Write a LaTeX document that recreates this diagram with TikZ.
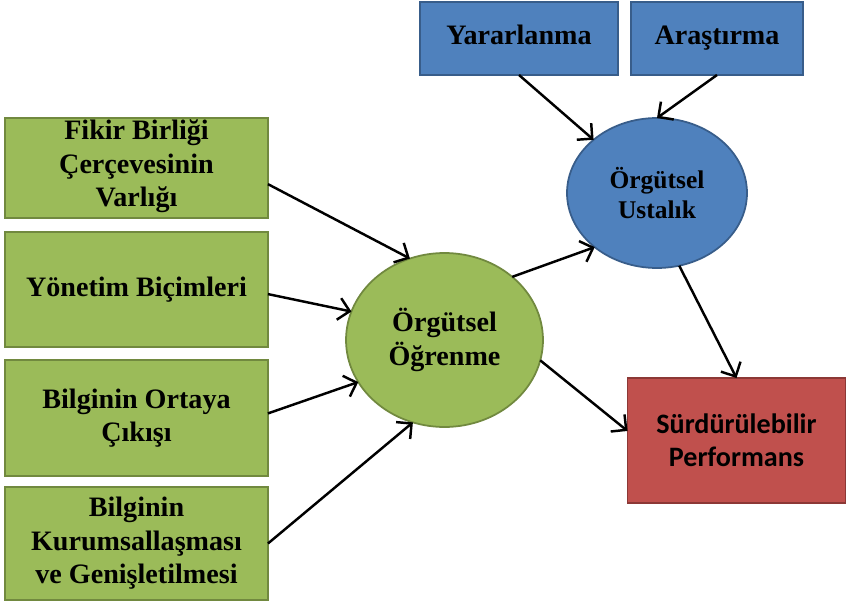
\documentclass[tikz,border=0pt]{standalone}
\usepackage{fontspec}
\setmainfont{Liberation Serif}
\newfontfamily\calibri{Carlito}
\usetikzlibrary{arrows.meta,shapes.geometric}
\definecolor{greenfill}{HTML}{9BBB59}
\definecolor{greenline}{HTML}{71893F}
\definecolor{bluefill}{HTML}{4F81BD}
\definecolor{blueline}{HTML}{385D8A}
\definecolor{redfill}{HTML}{C0504D}
\definecolor{redline}{HTML}{8C3836}
\begin{document}
\begin{tikzpicture}[x=0.02cm, y=-0.02cm,
    every node/.style={align=center, inner sep=0pt, outer sep=0pt,
      font=\fontsize{16}{19}\selectfont\bfseries},
    factor/.style={draw=greenline, fill=greenfill, line width=1pt,
      minimum width=5.26cm},
    source/.style={draw=blueline, fill=bluefill, line width=1pt,
      minimum height=1.46cm, text height=2.2ex, text depth=0.6ex},
    link/.style={line width=1.4pt, -{Straight Barb[length=2.2mm, width=4.4mm]}}]
  \useasboundingbox (0,0) rectangle (846,605);
  % left factors
  \node[factor, minimum height=2cm, text depth=1.2ex] (fikir) at (136.5,168)
    {Fikir Birliği\\Çerçevesinin\\Varlığı};
  \node[factor, minimum height=2.3cm] (yonetim) at (136.5,289.5)
    {Yönetim Biçimleri};
  \node[factor, minimum height=2.32cm] (ortaya) at (136.5,418)
    {Bilginin Ortaya\\Çıkışı};
  \node[factor, minimum height=2.26cm] (kurum) at (136.5,543.5)
    {Bilginin\\Kurumsallaşması\\ve Genişletilmesi};
  % ellipses
  \node[ellipse, draw=greenline, fill=greenfill, line width=1pt,
    minimum width=3.94cm, minimum height=3.48cm] (ogrenme) at (444.5,340)
    {Örgütsel\\Öğrenme};
  \node[ellipse, draw=blueline, fill=bluefill, line width=1pt,
    minimum width=3.6cm, minimum height=3cm,
    font=\fontsize{14.5}{17}\selectfont\bfseries] (ustalik) at (657,193)
    {Örgütsel\\Ustalık};
  % top boxes
  \node[source, minimum width=3.96cm] (yarar) at (519,38.5) {Yararlanma};
  \node[source, minimum width=3.44cm] (arastirma) at (717,38.5) {Araştırma};
  % outcome
  \node[draw=redline, fill=redfill, line width=1pt,
    minimum width=4.36cm, minimum height=2.5cm,
    font=\fontsize{16}{19}\selectfont\calibri\bfseries] (perf) at (736.5,440.5)
    {Sürdürülebilir\\Performans};
  \draw[link] (fikir.-7) -- (ogrenme.113);
  \draw[link] (yonetim.-2) -- (ogrenme.163);
  \draw[link] (ortaya.2) -- (ogrenme.206);
  \draw[link] (kurum.east) -- (ogrenme.249);
  \draw[link] (ogrenme.43) -- (ustalik.221);
  \draw[link] (ogrenme.-12) -- (perf.175);
  \draw[link] (ustalik.-73) -- (perf.north);
  \draw[link] (yarar.south) -- (ustalik.140);
  \draw[link] (arastirma.south) -- (ustalik.north);
\end{tikzpicture}
\end{document}
